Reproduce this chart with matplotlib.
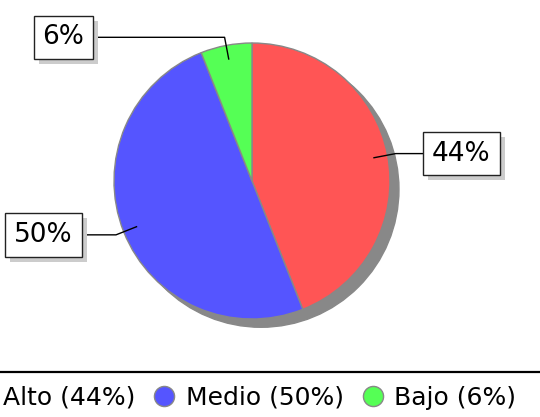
import matplotlib.pyplot as plt
import matplotlib.patheffects as pe
import numpy as np
from matplotlib.lines import Line2D
from matplotlib.patches import Circle

# datos
categorias = ['Alto', 'Medio', 'Bajo']
valores = [44, 50, 6]
colores = ['#ff5555', '#5555ff', '#55ff55']

# posicion de las etiquetas (centro de la caja, en unidades del radio)
pos_etiquetas = [(1.518, 0.188), (-1.511, -0.362), (-1.366, 1.043)]

W, H = 540, 417
fig = plt.figure(figsize=(W / 100, H / 100), dpi=100)

cx, cy, r = 252, 181, 138
ax = fig.add_axes([(cx - r) / W, 1 - (cy + r) / H, 2 * r / W, 2 * r / H])

# sombra
ax.add_patch(Circle((0.065, -0.06), 1, color='#888888', zorder=0, clip_on=False))

wedges, _ = ax.pie(valores, colors=colores, startangle=90, counterclock=False,
                   radius=1, wedgeprops=dict(edgecolor='#888888', linewidth=1))
for w in wedges:
    w.set_zorder(1)

ax.set_xlim(-1, 1)
ax.set_ylim(-1, 1)
ax.set_aspect('equal')
ax.axis('off')

total = sum(valores)
ang = 90.0
for v, (lx, ly) in zip(valores, pos_etiquetas):
    span = 360.0 * v / total
    mid = np.deg2rad(ang - span / 2)
    ang -= span
    x0, y0 = 0.9 * np.cos(mid), 0.9 * np.sin(mid)
    x1, y1 = 1.06 * np.cos(mid), 1.06 * np.sin(mid)
    ax.plot([x0, x1, lx], [y0, y1, y1], color='black', lw=1, zorder=3, clip_on=False)
    txt = '%d%%' % round(100.0 * v / total)
    t = ax.text(lx, y1, txt, ha='center', va='center', fontsize=19, zorder=5,
                bbox=dict(boxstyle='square,pad=0.33', fc='white', ec='#222222', lw=1),
                clip_on=False)
    t.get_bbox_patch().set_path_effects([
        pe.SimplePatchShadow(offset=(3.6, -3.6), shadow_rgbFace='#cccccc', alpha=1),
        pe.Normal()])

# linea sobre la leyenda
fig.add_artist(Line2D([0, 1], [1 - 372 / H, 1 - 372 / H], color='black', lw=1.6))

handles = [Line2D([], [], marker='o', ls='', markersize=14.5, markerfacecolor=c,
                  markeredgecolor='#888888', markeredgewidth=1) for c in colores]
labels = ['%s (%d%%)' % (c, v) for c, v in zip(categorias, valores)]
fig.legend(handles, labels, loc='center left', bbox_to_anchor=(-31 / W, 1 - 398 / H),
           ncol=3, frameon=False, fontsize=18, handlelength=1.0, handletextpad=0.36,
           columnspacing=0.66, borderpad=0, borderaxespad=0)

fig.savefig('out.png', dpi=100)
